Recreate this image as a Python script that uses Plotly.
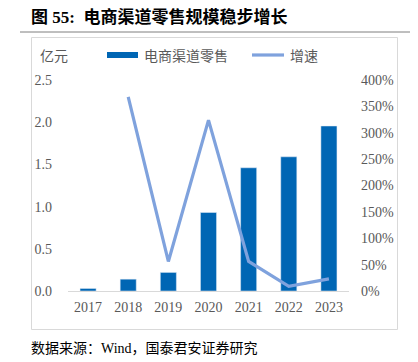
import plotly.graph_objects as go

years = ["2017", "2018", "2019", "2020", "2021", "2022", "2023"]
retail = [0.03, 0.14, 0.22, 0.93, 1.46, 1.59, 1.955]
growth_years = ["2018", "2019", "2020", "2021", "2022", "2023"]
growth = [368, 56, 324, 56, 9, 23]
left_ticks = [0, 0.5, 1.0, 1.5, 2.0, 2.5]
left_labels = ["0.0", "0.5", "1.0", "1.5", "2.0", "2.5"]
right_ticks = [0, 50, 100, 150, 200, 250, 300, 350, 400]
right_labels = [f"{v}%" for v in right_ticks]

O = 8  # default page body margin
W, H = 418 - O, 362 - O
L, R, T, B = 68, 349, 80, 291  # plot area in window pixels

def px(x):
    return (x - L) / (R - L)

def py(y):
    return (B - y) / (B - T)

BAR = "#0066B4"
LINE = "#7FA2DD"
GRAY = "#595959"
FONT = "Liberation Serif, 'Times New Roman', 'Noto Sans CJK SC', serif"
CJK = "'Noto Sans CJK SC', 'Liberation Serif', sans-serif"

fig = go.Figure()
fig.add_trace(go.Bar(x=years, y=retail, marker=dict(color=BAR), name="电商渠道零售", yaxis="y"))
fig.add_trace(go.Scatter(x=growth_years, y=growth, mode="lines", line=dict(color=LINE, width=3.2),
                         name="增速", yaxis="y2"))

fig.update_layout(
    width=W, height=H,
    margin=dict(l=L - O, r=W - (R - O), t=T - O, b=H - (B - O)),
    paper_bgcolor="white", plot_bgcolor="white",
    showlegend=False, bargap=0.6,
    font=dict(family=FONT, size=14, color=GRAY),
    xaxis=dict(type="category", showgrid=False, showline=True, linecolor="#D9D9D9", linewidth=1,
               ticks="", tickfont=dict(family=FONT, size=14, color=GRAY), ticklabelstandoff=3,
               fixedrange=True),
    yaxis=dict(range=[0, 2.5], tickvals=left_ticks, ticktext=left_labels, showgrid=False,
               zeroline=False, showline=False, ticks="", ticklabelstandoff=15,
               tickfont=dict(family=FONT, size=14, color=GRAY)),
    yaxis2=dict(range=[0, 400], tickvals=right_ticks, ticktext=right_labels, overlaying="y",
                side="right", showgrid=False, zeroline=False, showline=False, ticks="",
                ticklabelstandoff=11, tickfont=dict(family=FONT, size=14, color=GRAY)),
)

shapes = [
    # title underline
    dict(type="line", xref="paper", yref="paper", x0=px(20), x1=px(410), y0=py(32), y1=py(32),
         line=dict(color="#7F7F7F", width=1)),
    # chart frame
    dict(type="rect", xref="paper", yref="paper", x0=px(31.5), x1=px(397.5), y0=py(37.5), y1=py(329.5),
         line=dict(color="#D9D9D9", width=1)),
    # legend swatches
    dict(type="rect", xref="paper", yref="paper", x0=px(107), x1=px(138), y0=py(52), y1=py(58),
         fillcolor=BAR, line=dict(width=0)),
    dict(type="line", xref="paper", yref="paper", x0=px(252), x1=px(284), y0=py(55), y1=py(55),
         line=dict(color=LINE, width=3.2)),
]
fig.update_layout(shapes=shapes)

ann = [
    dict(text="<b>图 55:  电商渠道零售规模稳步增长</b>", x=px(29), y=py(17), xanchor="left", yanchor="middle",
         font=dict(family=FONT, size=17, color="#000000")),
    dict(text="亿元", x=px(38), y=py(55), xanchor="left", yanchor="middle",
         font=dict(family=CJK, size=14, color=GRAY)),
    dict(text="电商渠道零售", x=px(142), y=py(55), xanchor="left", yanchor="middle",
         font=dict(family=CJK, size=14, color=GRAY)),
    dict(text="增速", x=px(288), y=py(55), xanchor="left", yanchor="middle",
         font=dict(family=CJK, size=14, color=GRAY)),
    dict(text="数据来源：Wind，国泰君安证券研究", x=px(29), y=py(348), xanchor="left", yanchor="middle",
         font=dict(family=FONT, size=14, color="#000000")),
]
for a in ann:
    a.update(xref="paper", yref="paper", showarrow=False)
fig.update_layout(annotations=ann)

fig.write_html("out.html", config={"displayModeBar": False})
